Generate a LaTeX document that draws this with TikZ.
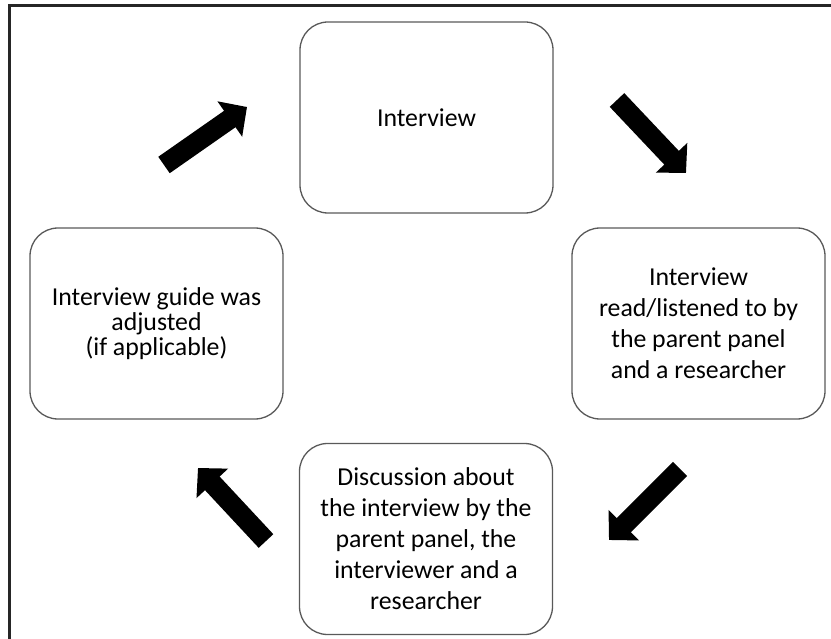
\documentclass[tikz,border=0pt]{standalone}
\usepackage{fontspec}
\setmainfont{Carlito}
\usetikzlibrary{arrows.meta}

\begin{document}
\begin{tikzpicture}[x=1pt, y=-1pt,
  stage/.style={draw=black!65, line width=1.3pt, rounded corners=28pt, minimum width=253pt, minimum height=191pt, align=center, text=black, font=\fontsize{25.8}{31}\selectfont},
  cyclearrow/.style={line width=20pt, black, -{Triangle[length=21pt,width=42pt]}}]
  \useasboundingbox (0,0) rectangle (831,639);

  % Frame (cut off at right and bottom)
  \draw[black!85, line width=3pt] (9,639) -- (9,5.5) -- (831,5.5);

  % Step 1: Interview
  \node[stage] (interview) at (426.5,117.5) {Interview};

  % Step 2: Parent panel reads
  \node[stage] (listen) at (698.5,323.5) {Interview\\read/listened to by\\the parent panel\\and a researcher};

  % Step 3: Discussion
  \node[stage] (discuss) at (426,539) {Discussion about\\the interview by the\\parent panel, the\\interviewer and a\\researcher};

  % Step 4: Guide adjusted
  \node[stage, font=\fontsize{25.8}{25}\selectfont] (adjust) at (156.5,323.5) {Interview guide was\\adjusted\\(if applicable)};

  % Arrows of the cycle
  \coordinate (toplefttail) at (164,165);
  \coordinate (toplefttip) at (247,107);
  \coordinate (toprighttail) at (617,100);
  \coordinate (toprighttip) at (686,173);
  \coordinate (botrighttail) at (680,469);
  \coordinate (botrighttip) at (609,540);
  \coordinate (botlefttail) at (266,541);
  \coordinate (botlefttip) at (198,468);

  \draw[cyclearrow] (toprighttail) -- (toprighttip);
  \draw[cyclearrow] (botrighttail) -- (botrighttip);
  \draw[cyclearrow] (botlefttail) -- (botlefttip);
  \draw[cyclearrow] (toplefttail) -- (toplefttip);
\end{tikzpicture}
\end{document}
